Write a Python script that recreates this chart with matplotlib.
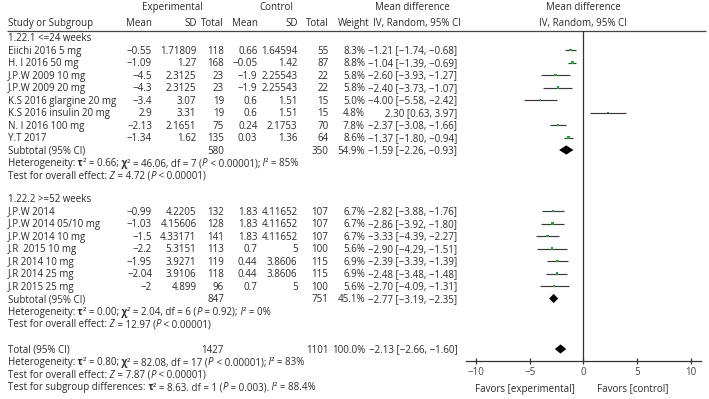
import matplotlib
matplotlib.use("Agg")
import matplotlib.pyplot as plt

plt.rcParams['font.family'] = ['Open Sans', 'DejaVu Sans']

# ---------------- data ----------------
names1 = ["Eiichi 2016 5 mg", "H. I 2016 50 mg", "J.P.W 2009 10 mg", "J.P.W 2009 20 mg",
          "K.S 2016 glargine 20 mg", "K.S 2016 insulin 20 mg", "N. I 2016 100 mg", "Y.T 2017"]
exp_mean1 = [-0.55, -1.09, -4.5, -4.3, -3.4, 2.9, -2.13, -1.34]
exp_sd1 = [1.71809, 1.27, 2.3125, 2.3125, 3.07, 3.31, 2.1651, 1.62]
exp_n1 = [118, 168, 23, 23, 19, 19, 75, 135]
ctl_mean1 = [0.66, -0.05, -1.9, -1.9, 0.6, 0.6, 0.24, 0.03]
ctl_sd1 = [1.64594, 1.42, 2.25543, 2.25543, 1.51, 1.51, 2.1753, 1.36]
ctl_n1 = [55, 87, 22, 22, 15, 15, 70, 64]
weight1 = [8.3, 8.8, 5.8, 5.8, 5.0, 4.8, 7.8, 8.6]
md1 = [-1.21, -1.04, -2.60, -2.40, -4.00, 2.30, -2.37, -1.37]
lo1 = [-1.74, -1.39, -3.93, -3.73, -5.58, 0.63, -3.08, -1.80]
hi1 = [-0.68, -0.69, -1.27, -1.07, -2.42, 3.97, -1.66, -0.94]

names2 = ["J.P.W 2014", "J.P.W 2014 05/10 mg", "J.P.W 2014 10 mg", "J.R  2015 10 mg",
          "J.R 2014 10 mg", "J.R 2014 25 mg", "J.R 2015 25 mg"]
exp_mean2 = [-0.99, -1.03, -1.5, -2.2, -1.95, -2.04, -2]
exp_sd2 = [4.2205, 4.15606, 4.33171, 5.3151, 3.9271, 3.9106, 4.899]
exp_n2 = [132, 128, 141, 113, 119, 118, 96]
ctl_mean2 = [1.83, 1.83, 1.83, 0.7, 0.44, 0.44, 0.7]
ctl_sd2 = [4.11652, 4.11652, 4.11652, 5, 3.8606, 3.8606, 5]
ctl_n2 = [107, 107, 107, 100, 115, 115, 100]
weight2 = [6.7, 6.7, 6.7, 5.6, 6.9, 6.9, 5.6]
md2 = [-2.82, -2.86, -3.33, -2.90, -2.39, -2.48, -2.70]
lo2 = [-3.88, -3.92, -4.39, -4.29, -3.39, -3.48, -4.09]
hi2 = [-1.76, -1.80, -2.27, -1.51, -1.39, -1.48, -1.31]

# subtotals / total: md, lo, hi, exp n, ctl n, weight
sub1 = [-1.59, -2.26, -0.93, 580, 350, 54.9]
sub2 = [-2.77, -3.19, -2.35, 847, 751, 45.1]
total = [-2.13, -2.66, -1.60, 1427, 1101, 100.0]

group_titles = ["1.22.1 <=24 weeks", "1.22.2 >=52 weeks"]
# statistics lines as (text, style) pieces: n = normal, i = italic, b = bold
het1 = [("Heterogeneity:", "n"), (" τ", "b"), ("² = 0.66;", "n"), (" χ", "b"),
        ("² = 46.06, df = 7 (", "n"), ("P", "i"), (" < 0.00001);", "n"), (" I", "i"), ("² = 85%", "n")]
eff1 = [("Test for overall effect:", "n"), (" Z", "i"), (" = 4.72 (", "n"), ("P", "i"), (" < 0.00001)", "n")]
het2 = [("Heterogeneity:", "n"), (" τ", "b"), ("² = 0.00;", "n"), (" χ", "b"),
        ("² = 2.04, df = 6 (", "n"), ("P", "i"), (" = 0.92);", "n"), (" I", "i"), ("² = 0%", "n")]
eff2 = [("Test for overall effect:", "n"), (" Z", "i"), (" = 12.97 (", "n"), ("P", "i"), (" < 0.00001)", "n")]
het_t = [("Heterogeneity:", "n"), (" τ", "b"), ("² = 0.80;", "n"), (" χ", "b"),
         ("² = 82.08, df = 17 (", "n"), ("P", "i"), (" < 0.00001);", "n"), (" I", "i"), ("² = 83%", "n")]
eff_t = [("Test for overall effect:", "n"), (" Z", "i"), (" = 7.87 (", "n"), ("P", "i"), (" < 0.00001)", "n")]
subg = [("Test for subgroup differences:", "n"), (" τ", "b"), ("² = 8.63. df = 1 (", "n"), ("P", "i"),
        (" = 0.003).", "n"), (" I", "i"), ("² = 88.4%", "n")]
xticks = [-10, -5, 0, 5, 10]

# ---------------- layout ----------------
W, H = 709, 399
TXT = '#2a2a2a'
FS = 7.0

def num(v):
    return f"{v:g}".replace("-", "\u2212")

def ci(m, l, h):
    return f"{m:.2f} [{l:.2f}, {h:.2f}]".replace("-", "\u2212")

fig = plt.figure(figsize=(W / 100, H / 100), dpi=100)
ax_t = fig.add_axes([0, 0, 1, 1])
ax_t.set_xlim(0, W)
ax_t.set_ylim(H, 0)
ax_t.axis('off')

def t(x, y, s, ha='left'):
    ax_t.text(x, y + 3.6, s, ha=ha, va='baseline', fontsize=FS, color=TXT)

def rich(x, y, segs):
    prev = None
    for s, st in segs:
        kw = dict(fontsize=FS, color=TXT)
        if st == 'i':
            kw['fontstyle'] = 'italic'
        elif st == 'b':
            kw['fontweight'] = 'bold'
        if prev is None:
            prev = ax_t.text(x, y + 3.6, s, ha='left', va='baseline', **kw)
        else:
            prev = ax_t.annotate(s, xy=(1, 0), xycoords=prev, ha='left', va='bottom', **kw)

X_NAME, X_EM, X_ESD, X_EN, X_CM, X_CSD, X_CN, X_W, X_CI = 8, 152, 196.5, 224, 257.5, 297.5, 328.5, 365, 457.5

# header
t(172.5, 6.7, "Experimental", 'center')
t(276, 6.7, "Control", 'center')
t(412, 6.7, "Mean difference", 'center')
t(583.3, 6.7, "Mean difference", 'center')
t(X_NAME, 22.7, "Study or Subgroup")
t(X_EM, 22.7, "Mean", 'right')
t(X_ESD, 22.7, "SD", 'right')
t(X_EN, 22.7, "Total", 'right')
t(X_CM, 22.7, "Mean", 'right')
t(X_CSD, 22.7, "SD", 'right')
t(X_CN, 22.7, "Total", 'right')
t(338, 22.7, "Weight")
t(417, 22.7, "IV, Random, 95% CI", 'center')
t(583.3, 22.7, "IV, Random, 95% CI", 'center')
ax_t.hlines(30.5, 7, 706, color='#444444', lw=0.9)

# forest axes
ax_f = fig.add_axes([466 / W, 1 - 361 / H, (700.7 - 466) / W, (361 - 30.5) / H])
ax_f.set_xlim(-10.95, 10.95)
ax_f.set_ylim(361, 30.5)
ax_f.patch.set_alpha(0)
for sp in ['top', 'left', 'right']:
    ax_f.spines[sp].set_visible(False)
ax_f.spines['bottom'].set_color('#333333')
ax_f.spines['bottom'].set_linewidth(0.9)
ax_f.set_yticks([])
ax_f.set_xticks(xticks)
ax_f.tick_params(axis='x', direction='inout', length=5, width=0.9, color='#333333',
                 labelsize=FS, labelcolor='#444444', pad=2)
ax_f.axvline(0, color='#333333', lw=0.9)

def study_rows(ys, names, em, esd, en, cm, csd, cn, w, md, lo, hi):
    for i, y in enumerate(ys):
        t(X_NAME, y, names[i])
        t(X_EM, y, num(em[i]), 'right')
        t(X_ESD, y, num(esd[i]), 'right')
        t(X_EN, y, str(en[i]), 'right')
        t(X_CM, y, num(cm[i]), 'right')
        t(X_CSD, y, num(csd[i]), 'right')
        t(X_CN, y, str(cn[i]), 'right')
        t(X_W, y, f"{w[i]:.1f}%", 'right')
        t(X_CI, y, ci(md[i], lo[i], hi[i]), 'right')
    ax_f.hlines(ys, lo, hi, color='#3a3a3a', lw=0.85, zorder=2)
    ax_f.scatter(md, ys, marker='s', s=[(wi * 0.26) ** 2 for wi in w],
                 color='#2f9e36', linewidths=0, zorder=3)

def summary_row(y, label, s):
    m, l, h, ne, nc, w = s
    t(X_NAME, y, label)
    t(X_EN, y, str(ne), 'right')
    t(X_CN, y, str(nc), 'right')
    t(X_W, y, f"{w:.1f}%", 'right')
    t(X_CI, y, ci(m, l, h), 'right')
    ax_f.fill([l, m, h, m], [y, y - 4.6, y, y + 4.6], color='black', lw=0, zorder=3)

# group 1
t(X_NAME, 37.5, group_titles[0])
ys1 = [50 + 12.5 * i for i in range(len(names1))]
study_rows(ys1, names1, exp_mean1, exp_sd1, exp_n1, ctl_mean1, ctl_sd1, ctl_n1,
           weight1, md1, lo1, hi1)
summary_row(150, "Subtotal (95% CI)", sub1)
rich(X_NAME, 162.5, het1)
rich(X_NAME, 175, eff1)

# group 2
t(X_NAME, 198, group_titles[1])
ys2 = [211 + 12.5 * i for i in range(len(names2))]
study_rows(ys2, names2, exp_mean2, exp_sd2, exp_n2, ctl_mean2, ctl_sd2, ctl_n2,
           weight2, md2, lo2, hi2)
summary_row(298.5, "Subtotal (95% CI)", sub2)
rich(X_NAME, 311, het2)
rich(X_NAME, 323.5, eff2)

# total
summary_row(349, "Total (95% CI)", total)
rich(X_NAME, 361.5, het_t)
rich(X_NAME, 374, eff_t)
rich(X_NAME, 386.5, subg)

# favours labels
t(525, 388, "Favors [experimental]", 'center')
t(633, 388, "Favors [control]", 'center')

fig.savefig("out.png", dpi=100)
